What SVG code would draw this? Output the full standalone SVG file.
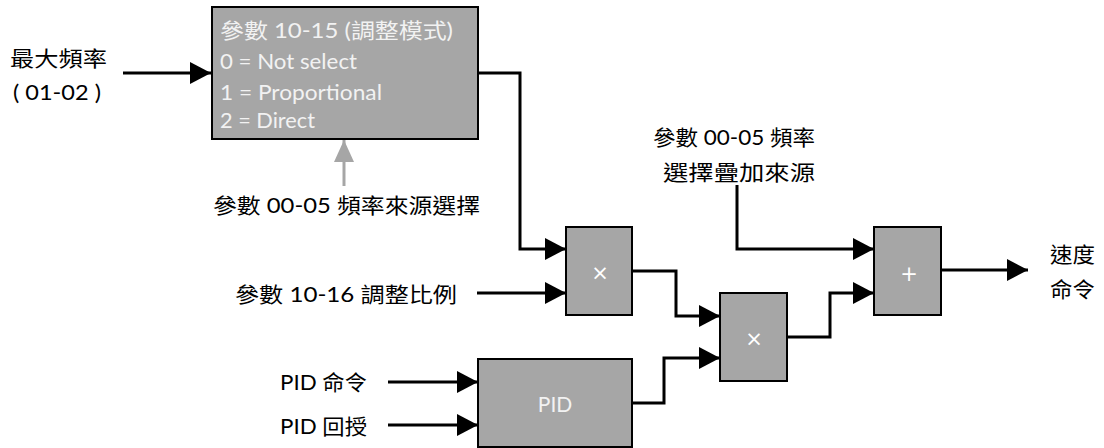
<svg xmlns="http://www.w3.org/2000/svg" width="1104" height="448" viewBox="0 0 1104 448">
<style>
.box{fill:#a6a6a6;stroke:#000;stroke-width:2}
.t{font-family:Lato,'Noto Sans CJK TC',sans-serif;font-size:21px;fill:#000}
.w{font-family:Lato,'Noto Sans CJK TC',sans-serif;font-size:21px;fill:#f2f2f2}
.op{font-family:'DejaVu Sans',sans-serif;font-size:21px;fill:#fff}
.c{fill:none;stroke:#000;stroke-width:3;stroke-linejoin:miter}
.g{fill:none;stroke:#a6a6a6;stroke-width:3}
</style>
<defs>
<marker id="ah" markerUnits="userSpaceOnUse" markerWidth="21" markerHeight="22" refX="21" refY="11" orient="auto"><path d="M0,0 L21,11 L0,22 z" fill="#000"/></marker>
<marker id="ag" markerUnits="userSpaceOnUse" markerWidth="22" markerHeight="20" refX="22" refY="10" orient="auto"><path d="M0,0 L22,10 L0,20 z" fill="#a6a6a6"/></marker>
</defs>
<g id="connectors">
<path class="c" d="M123,73 H211" marker-end="url(#ah)"/>
<path class="g" d="M344,186 V140" marker-end="url(#ag)"/>
<path class="c" d="M478,73 H520 V249 H566" marker-end="url(#ah)"/>
<path class="c" d="M477,293 H566" marker-end="url(#ah)"/>
<path class="c" d="M632,271 H676 V316 H720" marker-end="url(#ah)"/>
<path class="c" d="M632,403 H664 V358 H720" marker-end="url(#ah)"/>
<path class="c" d="M787,337 H830 V293 H874" marker-end="url(#ah)"/>
<path class="c" d="M737,185 V249 H874" marker-end="url(#ah)"/>
<path class="c" d="M941,270 H1028" marker-end="url(#ah)"/>
<path class="c" d="M388,382 H478" marker-end="url(#ah)"/>
<path class="c" d="M388,425 H478" marker-end="url(#ah)"/>
</g>
<g id="mode">
<rect class="box" x="212" y="7" width="266" height="132"/>
<text class="w" x="220" y="38" textLength="233" lengthAdjust="spacingAndGlyphs">參數 10-15 (調整模式)</text>
<text class="w" x="220" y="69" textLength="137" lengthAdjust="spacingAndGlyphs">0 = Not select</text>
<text class="w" x="220" y="100" textLength="162" lengthAdjust="spacingAndGlyphs">1 = Proportional</text>
<text class="w" x="220" y="128" textLength="95" lengthAdjust="spacingAndGlyphs">2 = Direct</text>
</g>
<g id="mul1">
<rect class="box" x="566" y="227" width="66" height="88"/>
<text class="op" x="600" y="280" text-anchor="middle">×</text>
</g>
<g id="mul2">
<rect class="box" x="720" y="293" width="67" height="88"/>
<text class="op" x="754" y="346" text-anchor="middle">×</text>
</g>
<g id="sum">
<rect class="box" x="874" y="227" width="67" height="88"/>
<text class="op" x="909" y="281" text-anchor="middle">+</text>
</g>
<g id="pid">
<rect class="box" x="478" y="359" width="154" height="88"/>
<text class="w" x="555" y="412" text-anchor="middle">PID</text>
</g>
<g id="labels">
<text class="t" x="10" y="66" textLength="97" lengthAdjust="spacingAndGlyphs">最大頻率</text>
<text class="t" x="13" y="100" textLength="88" lengthAdjust="spacingAndGlyphs">( 01-02 )</text>
<text class="t" x="213" y="213" textLength="267" lengthAdjust="spacingAndGlyphs">參數 00-05 頻率來源選擇</text>
<text class="t" x="235" y="302" textLength="222" lengthAdjust="spacingAndGlyphs">參數  10-16 調整比例</text>
<text class="t" x="280" y="390" textLength="87" lengthAdjust="spacingAndGlyphs">PID 命令</text>
<text class="t" x="280" y="434" textLength="87" lengthAdjust="spacingAndGlyphs">PID 回授</text>
<text class="t" x="653" y="145" textLength="162" lengthAdjust="spacingAndGlyphs">參數 00-05 頻率</text>
<text class="t" x="663" y="180" textLength="152" lengthAdjust="spacingAndGlyphs">選擇疊加來源</text>
<text class="t" x="1050" y="262" textLength="45" lengthAdjust="spacingAndGlyphs">速度</text>
<text class="t" x="1050" y="297" textLength="45" lengthAdjust="spacingAndGlyphs">命令</text>
</g>
</svg>
